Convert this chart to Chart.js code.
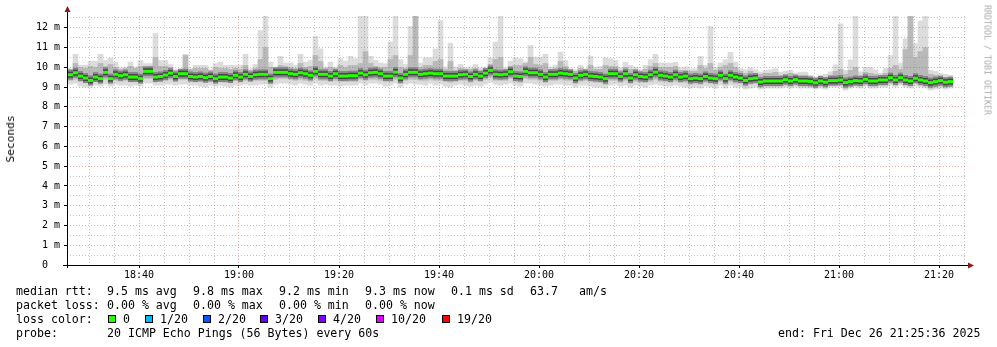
<!DOCTYPE html>
<html>
<head>
<meta charset="utf-8">
<title>smokeping</title>
<script src="https://cdn.jsdelivr.net/npm/chart.js@4.4.1/dist/chart.umd.min.js"></script>
<style>
  html, body { margin: 0; padding: 0; background: #fff; }
  #wrap { position: relative; width: 997px; height: 347px; overflow: hidden; font-family: 'DejaVu Sans Mono', monospace; }
  #chart { position: absolute; left: 0; top: 0; }
  .txt { position: absolute; font-size: 11.6px; line-height: 14px; white-space: pre; color: #000; }
  .box { position: absolute; width: 6px; height: 6px; border: 1px solid #000; }
  #ylabel { position: absolute; left: 11px; top: 139px; font-size: 11.2px; line-height: 12px; white-space: pre;
            transform: translate(-50%, -50%) rotate(-90deg); }
  #credit { position: absolute; left: 987px; top: 60px; font-size: 8.3px; line-height: 9px; white-space: pre; color: #aaa;
            transform: translate(-50%, -50%) rotate(90deg); }
</style>
</head>
<body>
<div id="wrap">
  <canvas id="chart" width="997" height="347"></canvas>
  <div id="ylabel">Seconds</div>
  <div id="credit">RRDTOOL / TOBI OETIKER</div>

  <div class="txt" style="left:16px;top:284px">median rtt:</div>
  <div class="txt" style="left:107px;top:284px">9.5 ms avg</div>
  <div class="txt" style="left:193px;top:284px">9.8 ms max</div>
  <div class="txt" style="left:279px;top:284px">9.2 ms min</div>
  <div class="txt" style="left:365px;top:284px">9.3 ms now</div>
  <div class="txt" style="left:451px;top:284px">0.1 ms sd</div>
  <div class="txt" style="left:530px;top:284px">63.7</div>
  <div class="txt" style="left:579px;top:284px">am/s</div>

  <div class="txt" style="left:16px;top:298px">packet loss:</div>
  <div class="txt" style="left:107px;top:298px">0.00 % avg</div>
  <div class="txt" style="left:193px;top:298px">0.00 % max</div>
  <div class="txt" style="left:279px;top:298px">0.00 % min</div>
  <div class="txt" style="left:365px;top:298px">0.00 % now</div>

  <div class="txt" style="left:16px;top:312px">loss color:</div>
  <div id="lossLegend"></div>

  <div class="txt" style="left:16px;top:326px">probe:</div>
  <div class="txt" style="left:107px;top:326px">20 ICMP Echo Pings (56 Bytes) every 60s</div>
  <div class="txt" style="left:778px;top:326px">end: Fri Dec 26 21:25:36 2025</div>
</div>
<script>
// time axis in minutes after 18:00, window 18:25:36 .. 21:25:36
const windowStart = 25.6;
const windowEnd = 205.6;
const firstStep = 25.3;   // centre of the first 60 s step

// median rtt per step (ms)
const medianRtt = [
  9.63, 9.63, 9.73, 9.56, 9.46, 9.34, 9.51, 9.43, 9.75, 9.43, 9.65, 9.58, 9.63, 9.51, 9.51, 9.43,
  9.8, 9.8, 9.51, 9.54, 9.61, 9.71, 9.54, 9.68, 9.68, 9.54, 9.51, 9.54, 9.48, 9.54, 9.43,
  9.51, 9.51, 9.46, 9.6, 9.51, 9.65, 9.54, 9.63, 9.65, 9.65, 9.43, 9.75, 9.75, 9.75, 9.68,
  9.65, 9.73, 9.68, 9.6, 9.8, 9.65, 9.65, 9.56, 9.68, 9.56, 9.56, 9.58, 9.58, 9.71, 9.63,
  9.73, 9.75, 9.68, 9.56, 9.56, 9.76, 9.46, 9.65, 9.75, 9.75, 9.65, 9.68, 9.71, 9.68, 9.68,
  9.56, 9.56, 9.56, 9.63, 9.65, 9.54, 9.65, 9.56, 9.71, 9.85, 9.65, 9.63, 9.65, 9.78, 9.56,
  9.54, 9.8, 9.73, 9.73, 9.65, 9.51, 9.65, 9.65, 9.71, 9.68, 9.65, 9.46, 9.6, 9.65, 9.56,
  9.54, 9.51, 9.43, 9.68, 9.68, 9.54, 9.68, 9.46, 9.63, 9.54, 9.51, 9.63, 9.76, 9.6, 9.56,
  9.51, 9.63, 9.51, 9.56, 9.43, 9.46, 9.43, 9.54, 9.46, 9.43, 9.6, 9.43, 9.6, 9.51, 9.46,
  9.34, 9.43, 9.46, 9.26, 9.31, 9.31, 9.31, 9.31, 9.38, 9.31, 9.38, 9.31, 9.31, 9.29, 9.22,
  9.31, 9.25, 9.33, 9.33, 9.36, 9.23, 9.28, 9.33, 9.31, 9.4, 9.31, 9.31, 9.36, 9.36,
  9.48, 9.36, 9.48, 9.36, 9.31, 9.45, 9.36, 9.31, 9.23, 9.28, 9.33, 9.25, 9.28
];

// slowest ping per step
const pingMax = [
  9.95, 9.93, 10.66, 10.1, 10.1, 10.32, 10.32, 10.66, 10.35, 10.47, 10.27, 9.98, 10.02, 10.27, 10.02, 10.35,
  10.19, 10.19, 11.73, 10.35, 10.35, 10.15, 9.88, 9.88, 10.66, 9.93, 10.1, 10.1, 10.1, 9.88, 10.19,
  10.27, 10.1, 10.1, 10.1, 10.1, 10.66, 9.93, 10.15, 11.87, 12.63, 10.27, 10.02, 10.56, 10.22, 10.22,
  10.1, 10.66, 10.27, 10.35, 11.57, 10.94, 10.02, 10.27, 10.02, 10.44, 10.32, 10.56, 10.44, 12.63, 12.63,
  10.56, 10.35, 10.22, 10.19, 11.28, 12.63, 10.39, 10.15, 12.07, 12.63, 10.22, 10.49, 10.49, 10.94, 12.37,
  10.02, 11.23, 10.02, 10.15, 9.98, 10.02, 10.15, 9.98, 10.02, 10.49, 11.28, 12.63, 9.98, 10.32, 10.49,
  10.44, 10.27, 11.11, 10.52, 10.52, 10.66, 10.02, 10.1, 10.77, 10.35, 9.93, 9.88, 10.1, 9.93, 10.56,
  10.02, 10.05, 10.49, 10.44, 10.35, 9.98, 10.27, 10.1, 10.02, 9.88, 10.1, 10.39, 10.66, 10.22, 10.22,
  10.22, 10.27, 9.98, 10.02, 9.93, 9.93, 10.56, 10.1, 12.07, 9.98, 10.22, 10.39, 10.76, 10.27, 9.93,
  9.88, 9.98, 9.88, 9.76, 9.85, 9.88, 9.93, 9.76, 9.81, 9.85, 9.71, 9.76, 9.76, 9.6, 9.51,
  9.6, 9.65, 9.78, 10.13, 12.2, 9.85, 10.38, 12.63, 9.78, 10.0, 10.0, 9.88, 9.7, 9.95,
  10.6, 12.63, 10.2, 11.45, 12.63, 11.2, 12.35, 12.63, 9.85, 9.8, 9.68, 9.65, 9.6
];

// upper edge of the denser smoke
const pingHi = [
  9.95, 9.9, 10.2, 10.0, 9.95, 10.05, 10.0, 10.2, 10.05, 10.15, 10.0, 9.9, 9.95, 10.05, 9.95, 10.05,
  10.0, 10.05, 10.5, 10.05, 10.05, 10.0, 9.85, 9.9, 10.6, 9.9, 9.95, 9.95, 9.95, 9.85, 10.0,
  9.95, 9.95, 9.9, 9.95, 9.9, 10.1, 9.85, 9.95, 10.4, 11.0, 10.0, 9.95, 10.1, 10.05, 10.0,
  9.95, 10.2, 10.0, 10.05, 10.6, 10.3, 9.95, 10.0, 9.9, 10.1, 10.0, 10.1, 10.1, 10.2, 10.8,
  10.2, 10.05, 10.0, 10.0, 10.4, 10.6, 10.0, 9.95, 10.6, 12.6, 10.0, 10.1, 10.1, 10.3, 10.4,
  9.9, 10.3, 9.85, 9.95, 9.85, 9.9, 9.95, 9.85, 9.95, 10.15, 10.4, 10.5, 9.9, 10.05, 10.1,
  10.1, 10.2, 10.5, 10.15, 10.1, 10.2, 9.9, 9.95, 10.3, 10.05, 9.85, 9.8, 9.95, 9.85, 10.1,
  9.9, 9.9, 10.1, 10.05, 10.05, 9.85, 10.0, 9.9, 9.9, 9.8, 9.9, 10.05, 10.2, 10.0, 10.0,
  10.0, 10.05, 9.85, 9.85, 9.8, 9.8, 10.1, 9.95, 10.2, 9.85, 10.0, 10.1, 10.2, 10.0, 9.8,
  9.7, 9.8, 9.7, 9.65, 9.7, 9.7, 9.75, 9.6, 9.65, 9.7, 9.6, 9.6, 9.6, 9.5, 9.45,
  9.5, 9.5, 9.6, 9.8, 9.9, 9.65, 9.85, 10.0, 9.6, 9.75, 9.7, 9.65, 9.55, 9.7,
  9.95, 10.1, 9.9, 10.9, 12.6, 10.5, 10.8, 11.0, 9.65, 9.6, 9.5, 9.45, 9.45
];

// lower edge of the denser smoke
const pingLo = [
  9.35, 9.35, 9.4, 9.3, 9.25, 9.2, 9.3, 9.25, 9.4, 9.25, 9.35, 9.3, 9.35, 9.3, 9.3, 9.25,
  9.45, 9.45, 9.3, 9.3, 9.35, 9.4, 9.3, 9.4, 9.4, 9.3, 9.3, 9.3, 9.25, 9.3, 9.25,
  9.3, 9.25, 9.25, 9.35, 9.3, 9.35, 9.3, 9.35, 9.35, 9.35, 9.2, 9.4, 9.45, 9.45, 9.4,
  9.35, 9.4, 9.35, 9.3, 9.45, 9.35, 9.35, 9.3, 9.35, 9.3, 9.3, 9.3, 9.3, 9.4, 9.35,
  9.4, 9.4, 9.35, 9.3, 9.3, 9.4, 9.2, 9.35, 9.4, 9.4, 9.35, 9.35, 9.4, 9.35, 9.35,
  9.3, 9.25, 9.3, 9.35, 9.35, 9.25, 9.35, 9.3, 9.4, 9.5, 9.35, 9.35, 9.35, 9.45, 9.3,
  9.25, 9.45, 9.4, 9.4, 9.35, 9.25, 9.35, 9.35, 9.4, 9.35, 9.35, 9.2, 9.3, 9.35, 9.3,
  9.25, 9.25, 9.15, 9.35, 9.35, 9.25, 9.35, 9.2, 9.3, 9.25, 9.25, 9.3, 9.4, 9.3, 9.3,
  9.25, 9.3, 9.25, 9.25, 9.15, 9.2, 9.15, 9.25, 9.2, 9.15, 9.3, 9.15, 9.3, 9.2, 9.2,
  9.05, 9.15, 9.2, 9.0, 9.05, 9.05, 9.05, 9.05, 9.1, 9.05, 9.1, 9.05, 9.05, 9.05, 9.0,
  9.05, 9.0, 9.1, 9.1, 9.1, 8.95, 9.05, 9.1, 9.05, 9.15, 9.05, 9.05, 9.1, 9.1,
  9.2, 9.1, 9.2, 9.1, 9.05, 9.2, 9.1, 9.05, 8.95, 9.0, 9.05, 9.0, 9.05
];

// fastest ping per step
const pingMin = [
  9.15, 9.15, 9.2, 9.05, 9.0, 9.0, 9.1, 9.05, 9.15, 9.05, 9.15, 9.1, 9.1, 9.05, 9.1, 9.05,
  9.2, 9.2, 9.1, 9.1, 9.15, 9.15, 9.1, 9.15, 9.15, 9.1, 9.1, 9.05, 9.0, 9.1, 9.05,
  9.1, 9.05, 9.0, 9.1, 9.1, 9.15, 9.1, 9.1, 9.15, 9.15, 9.0, 9.15, 9.2, 9.2, 9.15,
  9.1, 9.2, 9.15, 9.1, 9.2, 9.1, 9.15, 9.1, 9.1, 9.05, 9.1, 9.1, 9.1, 9.2, 9.1,
  9.2, 9.2, 9.15, 9.05, 9.1, 9.2, 9.0, 9.15, 9.2, 9.15, 9.15, 9.1, 9.2, 9.1, 9.15,
  9.05, 9.0, 9.1, 9.15, 9.1, 9.05, 9.1, 9.05, 9.15, 9.25, 9.15, 9.1, 9.15, 9.2, 9.1,
  9.05, 9.2, 9.2, 9.15, 9.1, 9.05, 9.1, 9.15, 9.15, 9.1, 9.1, 9.0, 9.1, 9.1, 9.05,
  9.0, 9.0, 8.95, 9.1, 9.15, 9.05, 9.1, 9.0, 9.1, 9.05, 9.0, 9.1, 9.15, 9.1, 9.05,
  9.05, 9.1, 9.05, 9.0, 8.95, 9.0, 8.95, 9.05, 9.0, 8.95, 9.1, 8.95, 9.1, 9.0, 9.0,
  8.9, 8.95, 9.0, 8.9, 8.95, 8.95, 8.95, 8.95, 9.0, 8.95, 9.0, 8.95, 8.95, 8.95, 8.9,
  8.95, 8.9, 9.0, 9.0, 9.0, 8.85, 8.95, 9.0, 8.95, 9.05, 8.95, 8.95, 9.0, 9.0,
  9.1, 9.0, 9.1, 9.0, 8.95, 9.05, 9.0, 8.95, 8.85, 8.9, 8.95, 8.9, 8.95
];

const xTickLabels = ['18:40', '19:00', '19:20', '19:40', '20:00', '20:20', '20:40', '21:00', '21:20'];
const yTickLabels = ['0  ', '1 m', '2 m', '3 m', '4 m', '5 m', '6 m', '7 m', '8 m', '9 m', '10 m', '11 m', '12 m'];

const lossLabels = ['0', '1/20', '2/20', '3/20', '4/20', '10/20', '19/20'];
const lossColors = ['#26ff00', '#00b8ff', '#0059ff', '#5e00ff', '#7e00ff', '#dd00ff', '#ff0000'];
const lossBoxX = [108, 145, 203, 260, 318, 376, 442];

// loss colour legend
const lossLegend = document.getElementById('lossLegend');
lossLabels.forEach((label, i) => {
    const box = document.createElement('div');
    box.className = 'box';
    box.style.left = lossBoxX[i] + 'px';
    box.style.top = '315px';
    box.style.background = lossColors[i];
    lossLegend.appendChild(box);

    const text = document.createElement('div');
    text.className = 'txt';
    text.style.left = (lossBoxX[i] + 15) + 'px';
    text.style.top = '312px';
    text.textContent = label;
    lossLegend.appendChild(text);
});

// minutes after 18:00 for each labelled tick
function labelMinute(label) {
    const parts = label.split(':');
    return (parseInt(parts[0], 10) - 18) * 60 + parseInt(parts[1], 10);
}
const labelledMinutes = xTickLabels.map(labelMinute);

const steps = medianRtt.map((v, i) => firstStep + i);
function band(lo, hi) {
    return steps.map((x, i) => ({ x: x, y: [lo[i], hi[i]] }));
}
function points(values) {
    return steps.map((x, i) => ({ x: x, y: values[i] }));
}

const majorGrid = 'rgba(222, 70, 70, 0.45)';
const minorGrid = 'rgba(140, 140, 140, 0.5)';
const tickFont = { family: "'DejaVu Sans Mono', monospace", size: 10 };

// axis lines with the little rrdtool arrows
const axesPlugin = {
    id: 'rrdAxes',
    afterDraw(chart) {
        const ctx = chart.ctx;
        const a = chart.chartArea;
        ctx.save();
        ctx.strokeStyle = '#000';
        ctx.lineWidth = 1;
        ctx.beginPath();
        ctx.moveTo(a.left - 4, a.bottom + 0.5);
        ctx.lineTo(a.right + 2, a.bottom + 0.5);
        ctx.moveTo(a.left + 0.5, a.bottom + 3);
        ctx.lineTo(a.left + 0.5, a.top - 4);
        ctx.stroke();

        ctx.fillStyle = '#8b1a1a';
        ctx.beginPath();
        ctx.moveTo(a.right + 1, a.bottom - 2.5);
        ctx.lineTo(a.right + 7, a.bottom + 0.5);
        ctx.lineTo(a.right + 1, a.bottom + 3.5);
        ctx.closePath();
        ctx.fill();

        ctx.beginPath();
        ctx.moveTo(a.left - 2.5, a.top - 4);
        ctx.lineTo(a.left + 0.5, a.top - 10);
        ctx.lineTo(a.left + 3.5, a.top - 4);
        ctx.closePath();
        ctx.fill();
        ctx.restore();
    }
};

new Chart(document.getElementById('chart'), {
    type: 'bar',
    data: {
        datasets: [
            {
                label: 'median',
                type: 'line',
                data: points(medianRtt),
                showLine: false,
                pointStyle: 'line',
                pointRadius: 2.5,
                pointBorderWidth: 3,
                pointBorderColor: '#26ff00',
                pointBackgroundColor: '#26ff00',
                order: 0
            },
            {
                label: 'core',
                type: 'line',
                data: points(medianRtt),
                showLine: false,
                pointStyle: 'line',
                pointRadius: 2.5,
                pointBorderWidth: 6,
                pointBorderColor: '#454545',
                pointBackgroundColor: '#454545',
                order: 1
            },
            {
                label: 'core2',
                type: 'line',
                data: points(medianRtt),
                showLine: false,
                pointStyle: 'line',
                pointRadius: 2.5,
                pointBorderWidth: 10,
                pointBorderColor: '#858585',
                pointBackgroundColor: '#858585',
                order: 2
            },
            {
                label: 'smoke',
                data: band(pingLo, pingHi),
                backgroundColor: '#b9b9b9',
                borderWidth: 0,
                grouped: false,
                barPercentage: 1,
                categoryPercentage: 1,
                order: 3
            },
            {
                label: 'outer',
                data: band(pingMin, pingMax),
                backgroundColor: '#dcdcdc',
                borderWidth: 0,
                grouped: false,
                barPercentage: 1,
                categoryPercentage: 1,
                order: 4
            }
        ]
    },
    options: {
        responsive: false,
        animation: false,
        devicePixelRatio: 1,
        events: [],
        layout: { padding: { left: 0, top: 16, right: 30, bottom: 0 } },
        plugins: {
            legend: { display: false },
            tooltip: { enabled: false }
        },
        scales: {
            x: {
                type: 'linear',
                min: windowStart,
                max: windowEnd,
                offset: false,
                afterBuildTicks: scale => {
                    const ticks = [];
                    for (let m = 30; m <= 205; m += 5) ticks.push({ value: m });
                    scale.ticks = ticks;
                },
                afterFit: scale => { scale.height = 82; },
                grid: {
                    offset: false,
                    z: 1,
                    color: c => labelledMinutes.includes(c.tick.value) ? majorGrid : minorGrid,
                    borderDash: [1, 2],
                    tickLength: 3,
                    tickWidth: 1,
                    tickColor: c => labelledMinutes.includes(c.tick.value) ? '#000' : 'rgba(0,0,0,0)'
                },
                border: { display: false, dash: [1, 2] },
                ticks: {
                    autoSkip: false,
                    maxRotation: 0,
                    padding: 1,
                    color: '#000',
                    font: tickFont,
                    callback: value => {
                        const i = labelledMinutes.indexOf(value);
                        return i >= 0 ? xTickLabels[i] : '';
                    }
                }
            },
            y: {
                min: 0,
                max: 12.6,
                afterBuildTicks: scale => {
                    const ticks = [];
                    for (let k = 0; k <= 25; k++) ticks.push({ value: k / 2 });
                    scale.ticks = ticks;
                },
                afterFit: scale => { scale.width = 67; },
                grid: {
                    z: 1,
                    color: c => Number.isInteger(c.tick.value) ? majorGrid : minorGrid,
                    borderDash: [1, 2],
                    tickLength: 3,
                    tickWidth: 1,
                    tickColor: c => Number.isInteger(c.tick.value) ? '#000' : 'rgba(0,0,0,0)'
                },
                border: { display: false, dash: [1, 2] },
                ticks: {
                    autoSkip: false,
                    padding: 4,
                    color: '#000',
                    font: tickFont,
                    callback: value => Number.isInteger(value) ? yTickLabels[value] : ''
                }
            }
        }
    },
    plugins: [axesPlugin]
});
</script>
</body>
</html>
